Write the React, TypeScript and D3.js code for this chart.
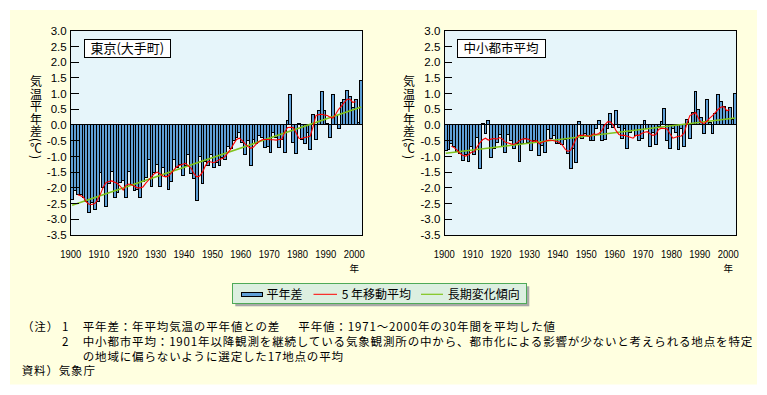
import React from "react";
import * as d3 from "d3";

// 平年差 (°C), 1900-2002
const firstYear = 1900;
const tokyoDiff = [
  -2.38, -2.08, -2.2, -2.2, -2.3, -2.42, -2.79, -2.47, -2.7, -2.45,
  -1.5, -2.0, -2.58, -1.85, -1.48, -2.3, -2.15, -1.83, -1.78, -2.3,
  -1.47, -1.9, -2.1, -2.05, -2.3, -1.8, -1.68, -1.1, -1.95, -1.5,
  -1.25, -1.95, -1.35, -1.65, -2.05, -1.8, -1.1, -1.35, -1.25, -1.6,
  -1.3, -0.95, -1.55, -1.7, -2.4, -1.0, -1.85, -1.15, -1.3, -0.95,
  -1.35, -1.2, -1.3, -1.05, -1.1, -0.7, -0.75, -0.5, -0.4, -0.25,
  -0.55, -0.95, -0.5, -1.3, -0.45, -0.6, -0.35, -0.4, -0.72, -0.7,
  -0.88, -0.25, -0.4, -0.72, -0.45, -0.88, 0.13, 0.96, -0.56, -0.9,
  0.05, -0.45, -0.6, -0.25, -0.77, 0.33, -0.47, 0.45, 1.08, 0.45,
  0.05, -0.4, 0.96, 0.3, -0.12, 0.72, 0.8, 1.1, 0.9, 0.55,
  0.8, 0.08, 1.4,
];
const smallCityDiff = [
  -0.81, -0.77, -0.58, -0.67, -0.83, -0.9, -1.12, -0.94, -1.17, -0.67,
  -0.95, -0.41, -1.37, 0.05, -0.27, 0.13, -1.05, -0.76, -0.55, -0.3,
  -0.7, -0.87, -0.3, -0.5, -0.76, -0.6, -1.16, -0.6, -0.44, -0.57,
  -0.81, -0.5, -0.57, -0.98, -0.65, -0.88, -0.14, -0.42, -0.33, -0.6,
  -0.6, -0.62, -0.45, -0.92, -1.4, -0.76, -1.2, 0.12, -0.44, -0.28,
  -0.33, -0.5, -0.5, -0.12, 0.13, -0.5, -0.45, -0.12, 0.38, -0.08,
  0.45, -0.08, -0.44, -0.1, -0.76, -0.23, -0.18, -0.33, -0.5, -0.44,
  0.15, -0.1, -0.67, -0.25, -0.63, -0.05, 0.1, 0.53, -0.5, -0.76,
  -0.12, -0.25, -0.78, -0.1, -0.7, 0.17, -0.42, 0.4, 1.05, 0.5,
  0.25, -0.28, 0.8, 0.08, -0.28, 0.35, 0.98, 0.75, 0.58, 0.45,
  0.55, 0.18, 1.0,
];

// 5年移動平均, 1902-2000
const maStartYear = 1902;
const tokyoMA = [
  -2.22, -2.25, -2.3, -2.45, -2.52, -2.53, -2.5, -2.38, -2.2, -1.97,
  -1.83, -1.8, -1.78, -1.82, -1.86, -1.95, -2.07, -1.92, -1.88, -1.9,
  -1.95, -2.0, -2.0, -1.97, -1.85, -1.75, -1.65, -1.55, -1.5, -1.55,
  -1.62, -1.65, -1.62, -1.52, -1.42, -1.32, -1.28, -1.25, -1.22, -1.3,
  -1.38, -1.55, -1.65, -1.62, -1.5, -1.3, -1.16, -1.18, -1.2, -1.15,
  -1.1, -1.07, -1.0, -0.88, -0.76, -0.6, -0.46, -0.42, -0.5, -0.6,
  -0.68, -0.74, -0.7, -0.6, -0.52, -0.47, -0.46, -0.46, -0.47, -0.47,
  -0.48, -0.46, -0.45, -0.22, -0.08, -0.07, -0.08, -0.25, -0.42, -0.43,
  -0.4, -0.38, -0.35, -0.05, 0.3, 0.33, 0.34, 0.32, 0.3, 0.25,
  0.22, 0.35, 0.5, 0.6, 0.72, 0.82, 0.82, 0.72, 0.74,
];
const smallCityMA = [
  -0.68, -0.72, -0.8, -0.9, -0.96, -0.99, -0.95, -0.87, -0.85, -0.7,
  -0.57, -0.47, -0.42, -0.48, -0.45, -0.43, -0.45, -0.4, -0.45, -0.55,
  -0.57, -0.6, -0.62, -0.57, -0.5, -0.45, -0.44, -0.45, -0.5, -0.52,
  -0.5, -0.6, -0.55, -0.52, -0.49, -0.48, -0.5, -0.52, -0.55, -0.63,
  -0.76, -0.84, -0.8, -0.62, -0.42, -0.33, -0.33, -0.32, -0.36, -0.36,
  -0.28, -0.3, -0.27, -0.18, 0.0, 0.1, 0.1, 0.0, -0.18, -0.3,
  -0.33, -0.33, -0.36, -0.39, -0.42, -0.33, -0.33, -0.27, -0.23, -0.21,
  -0.28, -0.33, -0.3, -0.14, -0.1, -0.11, -0.13, -0.28, -0.42, -0.39,
  -0.36, -0.35, -0.25, 0.05, 0.3, 0.35, 0.4, 0.22, 0.08, 0.05,
  0.12, 0.22, 0.3, 0.4, 0.5, 0.57, 0.58, 0.46, 0.48,
];

// 長期変化傾向: value at first and last year
const trendYears = [1900, 2002];
const tokyoTrend = [-2.55, 0.57];
const smallCityTrend = [-0.9, 0.22];

const yTicks = [3, 2.5, 2, 1.5, 1, 0.5, 0, -0.5, -1, -1.5, -2, -2.5, -3, -3.5];
const decadeLabels = [1900, 1910, 1920, 1930, 1940, 1950, 1960, 1970, 1980, 1990, 2000];
const axisTitle = "気温平年差(℃)";

const notes = [
  "平年差：年平均気温の平年値との差",
  "平年値：1971～2000年の30年間を平均した値",
  "中小都市平均：1901年以降観測を継続している気象観測所の中から、都市化による影響が少ないと考えられる地点を特定",
  "の地域に偏らないように選定した17地点の平均",
];

const JP = "'Noto Sans CJK JP', 'Noto Sans', sans-serif";
const NUM = "'Liberation Sans', Arial, sans-serif";
const BAR_BLUE = "#5f9fd6";
const RED = "#ff0000";
const GREEN = "#80c41c";

const plotTop = 30.7;
const plotBottom = 235;

interface ChartProps {
  left: number;
  right: number;
  values: number[];
  ma: number[];
  trend: number[];
  title: string;
  titleBox: [number, number, number];
  axisTitleX: number;
}

function Chart({ left, right, values, ma, trend, title, titleBox, axisTitleX }: ChartProps) {
  const years = values.map((_, i) => firstYear + i);
  const x = d3.scaleBand<number>().domain(years).range([left, right]).padding(0);
  const bw = x.bandwidth();
  const y = d3.scaleLinear().domain([-3.5, 3]).range([plotBottom, plotTop]);
  const cx = (yr: number) => (x(yr) ?? 0) + bw / 2;

  const maLine = d3.line<number>()
    .x((_, i) => cx(maStartYear + i))
    .y((d) => y(d));
  const trendLine = d3.line<number>()
    .x((_, i) => cx(trendYears[i]))
    .y((d) => y(d));

  return (
    <g>
      <rect x={left} y={plotTop} width={right - left} height={plotBottom - plotTop} fill="#e6f5fa" />

      {values.map((v, i) => {
        const yr = years[i];
        const y0 = y(0);
        const y1 = y(v);
        return (
          <rect key={yr} x={x(yr)} y={Math.min(y0, y1)} width={bw} height={Math.abs(y1 - y0)}
            fill={BAR_BLUE} stroke="#000" strokeWidth={1} shapeRendering="crispEdges" />
        );
      })}

      <path d={trendLine(trend) ?? ""} fill="none" stroke={GREEN} strokeWidth={1.6} />
      <path d={maLine(ma) ?? ""} fill="none" stroke={RED} strokeWidth={1.1} />

      {yTicks.map((t) => (
        <g key={t}>
          <line x1={left} x2={left + 8} y1={y(t)} y2={y(t)} stroke="#000" strokeWidth={1} shapeRendering="crispEdges" />
          <text x={left - 4} y={y(t)} dy="0.36em" textAnchor="end" fontFamily={NUM} fontSize={11.5}>
            {t.toFixed(1)}
          </text>
        </g>
      ))}

      <rect x={left} y={plotTop} width={right - left} height={plotBottom - plotTop} fill="none" stroke="#000" strokeWidth={1} shapeRendering="crispEdges" />

      {decadeLabels.map((d) => (
        <text key={d} x={x(d) ?? 0} y={258} textAnchor="middle" fontFamily={NUM} fontSize={11.5}
          textLength={21} lengthAdjust="spacingAndGlyphs">
          {d}
        </text>
      ))}
      <text x={x(2000) ?? 0} y={268.5} dy="0.35em" textAnchor="middle" fontFamily={JP} fontSize={9.5}>年</text>

      <rect x={titleBox[0]} y={39.5} width={titleBox[1]} height={18} fill="#fff" stroke="#000" strokeWidth={1} shapeRendering="crispEdges" />
      <text x={titleBox[0] + titleBox[1] / 2} y={48.5} dy="0.36em" textAnchor="middle" fontFamily={JP} fontSize={titleBox[2]}>
        {title}
      </text>

      <text x={axisTitleX} y={75.5} fontFamily={JP} fontSize={12} letterSpacing={0.5}
        style={{ writingMode: "vertical-rl" }}>
        {axisTitle}
      </text>
    </g>
  );
}

export default function App() {
  const legendY = 294.3;
  return (
    <div style={{ position: "absolute", left: 0, top: 0 }}>
      <svg width={767} height={395} style={{ display: "block", background: "#fff" }}>
        <rect x={10} y={10} width={747} height={374.5} fill="#ffffe0" />

        <Chart left={70.7} right={362.7} values={tokyoDiff} ma={tokyoMA} trend={tokyoTrend}
          title="東京(大手町)" titleBox={[84, 86.7, 13]} axisTitleX={36} />
        <Chart left={444.3} right={736.7} values={smallCityDiff} ma={smallCityMA} trend={smallCityTrend}
          title="中小都市平均" titleBox={[457, 88, 12.5]} axisTitleX={409} />

        {/* legend */}
        <rect x={235.3} y={286.3} width={294} height={20} fill="#a8a8a8" />
        <rect x={232.3} y={283.3} width={294} height={20} fill="#dcefe0" stroke="#4faa58" strokeWidth={1} shapeRendering="crispEdges" />
        <rect x={241} y={292.5} width={21} height={3.5} fill={BAR_BLUE} stroke="#000" strokeWidth={1} shapeRendering="crispEdges" />
        <text x={266.5} y={legendY} dy="0.36em" fontFamily={JP} fontSize={12}>平年差</text>
        <line x1={313.5} x2={337} y1={legendY} y2={legendY} stroke={RED} strokeWidth={1} />
        <text x={341.7} y={legendY} dy="0.36em" fontFamily={JP} fontSize={12}>5 年移動平均</text>
        <line x1={421} x2={443} y1={legendY} y2={legendY} stroke={GREEN} strokeWidth={1.2} />
        <text x={447.7} y={legendY} dy="0.36em" fontFamily={JP} fontSize={12}>長期変化傾向</text>

        {/* notes */}
        <g fontFamily={JP} fontSize={11.5} letterSpacing={0.85} fill="#000">
          <text x={22} y={326.5} dy="0.36em">（注）</text>
          <text x={62} y={326.5} dy="0.36em">1</text>
          <text x={82.7} y={326.5} dy="0.36em">{notes[0]}</text>
          <text x={298.3} y={326.5} dy="0.36em">{notes[1]}</text>
          <text x={62} y={342} dy="0.36em">2</text>
          <text x={82.7} y={342} dy="0.36em">{notes[2]}</text>
          <text x={82.7} y={357} dy="0.36em">{notes[3]}</text>
          <text x={21.7} y={370.5} dy="0.36em">資料）気象庁</text>
        </g>
      </svg>
    </div>
  );
}
